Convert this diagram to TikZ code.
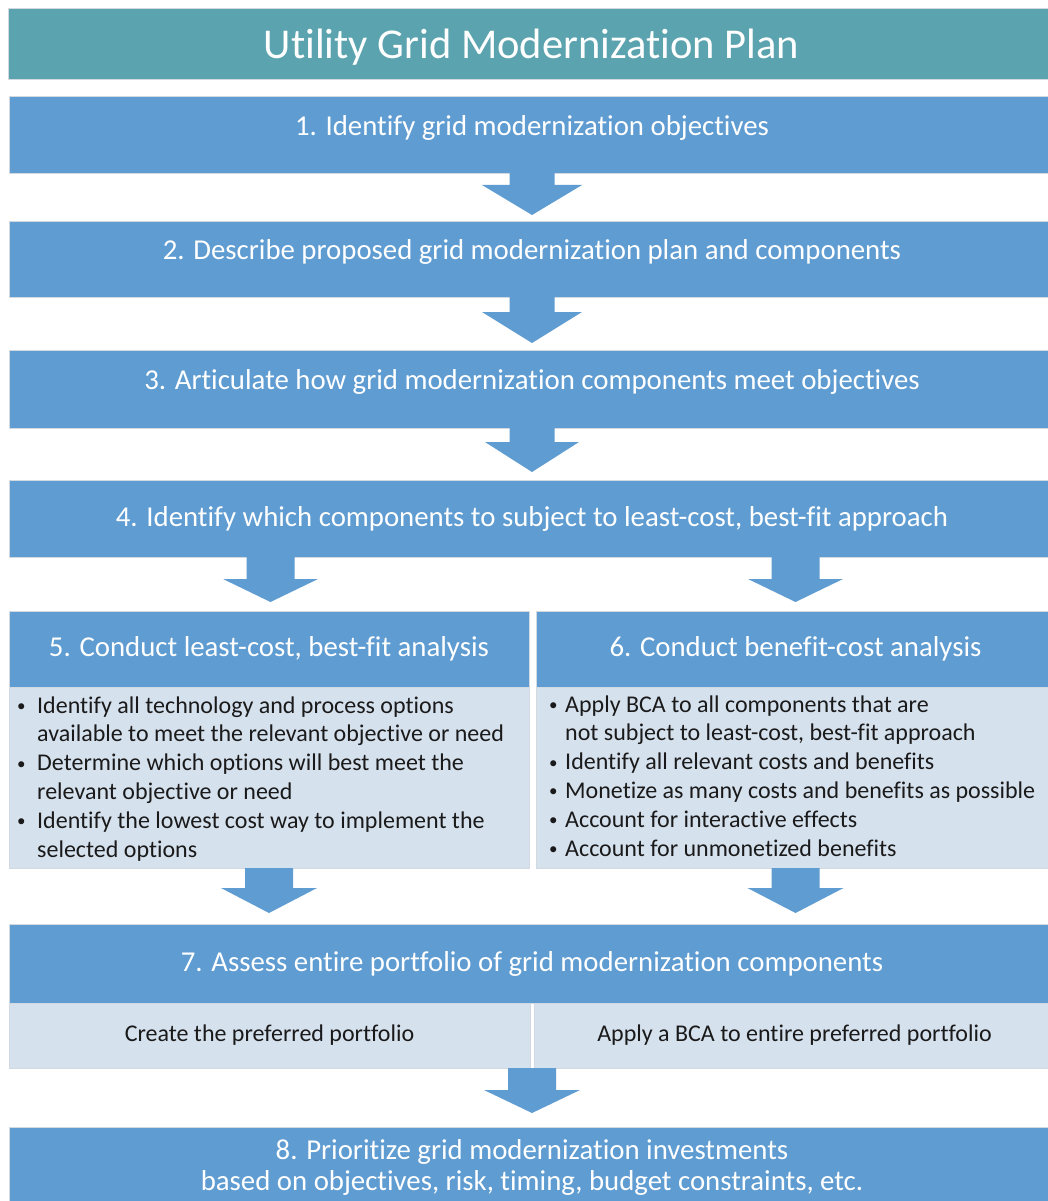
\documentclass[tikz,border=0pt]{standalone}
\usepackage{fontspec}
\setmainfont{Carlito}[Ligatures=NoCommon]
\usetikzlibrary{calc}
\definecolor{boxblue}{HTML}{5F9CD1}
\definecolor{titleteal}{HTML}{5BA3AE}
\definecolor{bodyblue}{HTML}{D6E1EE}
\definecolor{edgegray}{HTML}{D3D9E0}
\definecolor{textdark}{HTML}{1A1A1A}
\newcommand\smallbul{\raisebox{1.5pt}{\fontsize{17}{17}\selectfont\textbullet}}
\newcommand\bulitem[1]{\hangindent=#1\hangafter=1\noindent\makebox[#1][l]{\smallbul}}
\newcommand\blockarrow[5]{% #1 start, #2 tip, #3 head length, #4 shaft half width, #5 head half width
  \fill[arrowfill] ($(#1)+(-#4,0)$) -- ($(#2)+(-#4,-#3)$) -- ($(#2)+(-#5,-#3)$) -- (#2)
    -- ($(#2)+(#5,-#3)$) -- ($(#2)+(#4,-#3)$) -- ($(#1)+(#4,0)$) -- cycle;}
\tikzset{
  boxbase/.style={draw=edgegray, line width=0.6pt, inner sep=0pt, outer sep=0pt},
  bluebox/.style={boxbase, fill=boxblue},
  tealbox/.style={boxbase, fill=titleteal},
  lightbox/.style={boxbase, fill=bodyblue},
  titletext/.style={text=white, font=\fontsize{42.5}{50}\selectfont, inner sep=0pt},
  hdrtext/.style={text=white, font=\fontsize{28.8}{31}\selectfont, inner sep=0pt, align=center},
  bodytext/.style={text=textdark, font=\fontsize{24}{28.8}\selectfont, inner sep=0pt, align=left},
  arrowfill/.style={fill=boxblue}
}
\begin{document}
\begin{tikzpicture}[x=1pt, y=-1pt]
\useasboundingbox (0,0) rectangle (1048,1201);
\clip (0,0) rectangle (1048,1201);
\fill[white] (0,0) rectangle (1048,1201);

% title
\node[tealbox, minimum width=1047pt, minimum height=71pt] (title) at (531.5,43.5) {};
\node[titletext] (titlet) at ($(title.center)+(0,3.5)$) {Utility Grid Modernization Plan};

% steps 1-4
\node[bluebox, minimum width=1046pt, minimum height=77pt] (b1) at (532,134.5) {};
\node[hdrtext] (t1) at ($(b1.center)+(0,-7)$) {1. Identify grid modernization objectives};
\node[bluebox, minimum width=1046pt, minimum height=76pt] (b2) at (532,259) {};
\node[hdrtext] (t2) at ($(b2.center)+(0,-7)$) {2. Describe proposed grid modernization plan and components};
\node[bluebox, minimum width=1046pt, minimum height=78pt] (b3) at (532,389) {};
\node[hdrtext] (t3) at ($(b3.center)+(0,-7)$) {3. Articulate how grid modernization components meet objectives};
\node[bluebox, minimum width=1046pt, minimum height=77pt] (b4) at (532,518.5) {};
\node[hdrtext] (t4) at (b4.center) {4. Identify which components to subject to least-cost, best-fit approach};

% steps 5 and 6
\node[bluebox, minimum width=520pt, minimum height=76pt] (h5) at (269,649) {};
\node[hdrtext] (t5) at (h5.center) {5. Conduct least-cost, best-fit analysis};
\node[lightbox, minimum width=520pt, minimum height=181pt] (p5) at (269,777.5) {};
\node[bodytext, anchor=base west] (l5) at ($(p5.north west)+(8,26)$) {\parbox[t]{510pt}{\raggedright
\bulitem{20pt}Identify all technology and process options\newline available to meet the relevant objective or need\par
\bulitem{20pt}Determine which options will best meet the\newline relevant objective or need\par
\bulitem{20pt}Identify the lowest cost way to implement the\newline selected options}};

\node[bluebox, minimum width=519pt, minimum height=76pt] (h6) at (795.5,649) {};
\node[hdrtext] (t6) at (h6.center) {6. Conduct benefit-cost analysis};
\node[lightbox, minimum width=519pt, minimum height=181pt] (p6) at (795.5,777.5) {};
\node[bodytext, anchor=base west] (l6) at ($(p6.north west)+(13,25)$) {\parbox[t]{505pt}{\raggedright
\bulitem{16pt}Apply BCA to all components that are\newline not subject to least-cost, best-fit approach\par
\bulitem{16pt}Identify all relevant costs and benefits\par
\bulitem{16pt}Monetize as many costs and benefits as possible\par
\bulitem{16pt}Account for interactive effects\par
\bulitem{16pt}Account for unmonetized benefits}};

% step 7
\node[bluebox, minimum width=1046pt, minimum height=79pt] (b7) at (532,963.5) {};
\node[hdrtext] (t7) at (b7.center) {7. Assess entire portfolio of grid modernization components};
\node[lightbox, minimum width=521pt, minimum height=65pt] (c7l) at (269.5,1035.5) {};
\node[bodytext] (c7lt) at (c7l.center) {Create the preferred portfolio};
\node[lightbox, minimum width=521pt, minimum height=65pt] (c7r) at (794.5,1035.5) {};
\node[bodytext] (c7rt) at (c7r.center) {Apply a BCA to entire preferred portfolio};

% step 8
\node[bluebox, minimum width=1046pt, minimum height=90pt] (b8) at (532,1172) {};
\node[hdrtext] (t8) at ($(b8.center)+(0,-5)$) {8. Prioritize grid modernization investments\\ based on objectives, risk, timing, budget constraints, etc.};

% arrows
\coordinate (a1s) at (b1.south);
\coordinate (a1t) at ($(b2.north)+(0,-6)$);
\blockarrow{a1s}{a1t}{30}{22.5}{50}
\coordinate (a2s) at (b2.south);
\coordinate (a2t) at ($(b3.north)+(0,-7)$);
\blockarrow{a2s}{a2t}{31}{22.5}{50}
\coordinate (a3s) at (b3.south);
\coordinate (a3t) at ($(b4.north)+(0,-8)$);
\blockarrow{a3s}{a3t}{30}{22.5}{47}
\coordinate (a4ls) at ($(b4.south -| h5.north)+(1.5,0)$);
\coordinate (a4lt) at ($(h5.north)+(1.5,-9)$);
\blockarrow{a4ls}{a4lt}{23}{24}{47.5}
\coordinate (a4rs) at (b4.south -| h6.north);
\coordinate (a4rt) at ($(h6.north)+(0,-9)$);
\blockarrow{a4rs}{a4rt}{23}{24}{47.5}
\coordinate (a5ls) at (p5.south);
\coordinate (a5lt) at ($(b7.north -| p5.south)+(0,-11)$);
\blockarrow{a5ls}{a5lt}{25}{24}{48}
\coordinate (a5rs) at (p6.south);
\coordinate (a5rt) at ($(b7.north -| p6.south)+(0,-11)$);
\blockarrow{a5rs}{a5rt}{25}{24}{48}
\coordinate (a7s) at ($(c7l.south east)!0.5!(c7r.south west)$);
\coordinate (a7t) at ($(b8.north -| a7s)+(0,-14)$);
\blockarrow{a7s}{a7t}{23}{24}{48}
\end{tikzpicture}
\end{document}
